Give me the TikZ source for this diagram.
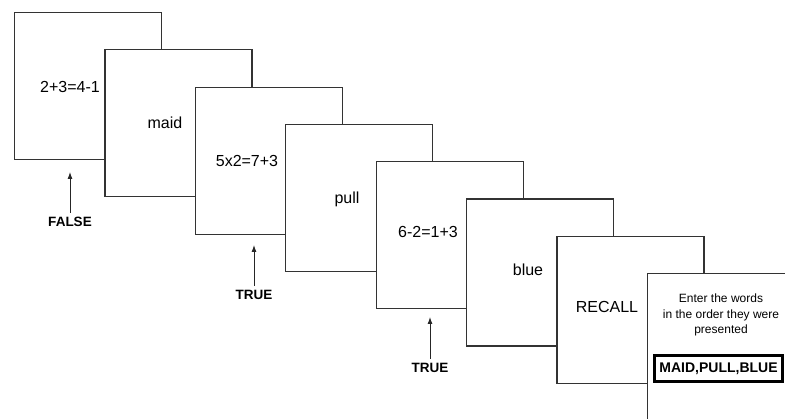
\documentclass[tikz,border=0pt]{standalone}
\usepackage{fontspec}
\setmainfont{Liberation Sans}
\usetikzlibrary{positioning}
\usetikzlibrary{arrows.meta}

\tikzset{
card/.style={draw=black!80, line width=1.1pt, fill=white, inner sep=0pt,
  minimum width=147pt, minimum height=147pt, anchor=north west},
word/.style={font=\fontsize{16}{19}\selectfont},
verdict/.style={font=\bfseries\fontsize{13.5}{16}\selectfont},
arr/.style={-{Latex[length=7pt,width=5pt]}, line width=0.9pt, black!85, shorten <=1pt}
}

\begin{document}
\begin{tikzpicture}[x=1pt,y=-1pt]
\useasboundingbox (0,0) rectangle (785,419);
\clip (0,0) rectangle (785,419);
\foreach \i in {1,...,8}
  \node[card] (card\i) at ({14+90.4*(\i-1)},{12+37.3*(\i-1)}) {};
\node[word] (eq1) at (70,87) {2+3=4-1};
\node[word] (maid) at (165,123) {maid};
\node[word] (eq2) at (247,161) {5x2=7+3};
\node[word] (pull) at (347,199) {pull};
\node[word] (eq3) at (428,232) {6-2=1+3};
\node[word] (blue) at (528,270) {blue};
\node[word] (recall) at (607,307) {RECALL};
\node[align=center, font=\fontsize{12}{15.5}\selectfont] (prompt) at (721,315)
  {Enter the words\\ in the order they were\\ presented};
\node[draw, line width=3pt, minimum width=128pt, minimum height=26pt,
  font=\bfseries\fontsize{14}{16}\selectfont] (answer) at (718.5,369) {MAID,PULL,BLUE};
% judgements
\node[verdict] (false) at (70,222) {FALSE};
\node[verdict] (true1) at (254,295) {TRUE};
\node[verdict] (true2) at (430,368) {TRUE};
\coordinate (tip1) at (70,172);
\coordinate (tip2) at (254,245);
\coordinate (tip3) at (430,317);
\draw[arr] (false.north) -- (tip1);
\draw[arr] (true1.north) -- (tip2);
\draw[arr] (true2.north) -- (tip3);
\end{tikzpicture}
\end{document}
